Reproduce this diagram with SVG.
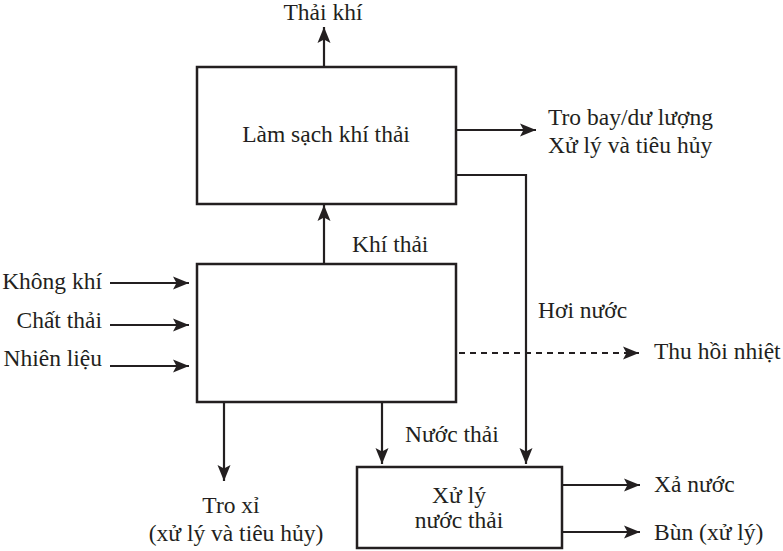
<svg xmlns="http://www.w3.org/2000/svg" width="783" height="551" viewBox="0 0 783 551">
<defs>
<marker id="ah" markerUnits="userSpaceOnUse" markerWidth="18" markerHeight="14" refX="16" refY="7" orient="auto">
<path d="M0,0.5 L16,7 L0,13.5 L3.5,7 z" fill="#231f20"/>
</marker>
<style>
text{font-family:"Liberation Serif","Times New Roman",serif;font-size:23.5px;fill:#231f20}
.box{fill:none;stroke:#231f20;stroke-width:2.5}
.ln{fill:none;stroke:#231f20;stroke-width:2.2}
.arr{marker-end:url(#ah)}
.dash{stroke-dasharray:6 5}
.c{text-anchor:middle}
.e{text-anchor:end}
</style>
</defs>
<rect width="783" height="551" fill="#fff"/>
<g id="connectors">
<line class="ln arr" x1="324" y1="67" x2="324" y2="27"/>
<line class="ln arr" x1="324" y1="264" x2="324" y2="205"/>
<line class="ln arr" x1="456" y1="130" x2="536" y2="130"/>
<polyline class="ln arr" points="456,175 526,175 526,464"/>
<line class="ln arr dash" x1="459" y1="353" x2="639" y2="353"/>
<line class="ln arr" x1="110" y1="283" x2="189" y2="283"/>
<line class="ln arr" x1="110" y1="325" x2="189" y2="325"/>
<line class="ln arr" x1="110" y1="366" x2="189" y2="366"/>
<line class="ln arr" x1="224" y1="402" x2="224" y2="481"/>
<line class="ln arr" x1="382" y1="402" x2="382" y2="464"/>
<line class="ln arr" x1="562" y1="485" x2="640" y2="485"/>
<line class="ln arr" x1="562" y1="532" x2="640" y2="532"/>
</g>
<g id="cleaning">
<rect class="box" x="197" y="67" width="259" height="137"/>
<text class="c" x="326" y="142">Làm sạch khí thải</text>
</g>
<g id="combustion">
<rect class="box" x="197" y="264" width="259" height="138"/>
</g>
<g id="wastewater">
<rect class="box" x="357" y="467" width="205" height="81"/>
<text class="c" x="459" y="503">Xử lý</text>
<text class="c" x="459" y="528">nước thải</text>
</g>
<g id="labels">
<text class="c" x="323" y="20">Thải khí</text>
<text x="352" y="252">Khí thải</text>
<text x="548" y="125">Tro bay/dư lượng</text>
<text x="548" y="153">Xử lý và tiêu hủy</text>
<text x="538" y="318">Hơi nước</text>
<text x="654" y="359">Thu hồi nhiệt</text>
<text class="e" x="102" y="289">Không khí</text>
<text class="e" x="102" y="328">Chất thải</text>
<text class="e" x="102" y="366">Nhiên liệu</text>
<text x="405" y="442">Nước thải</text>
<text class="c" x="231" y="513">Tro xỉ</text>
<text class="c" x="236" y="541">(xử lý và tiêu hủy)</text>
<text x="654" y="492">Xả nước</text>
<text x="654" y="540">Bùn (xử lý)</text>
</g>
</svg>
